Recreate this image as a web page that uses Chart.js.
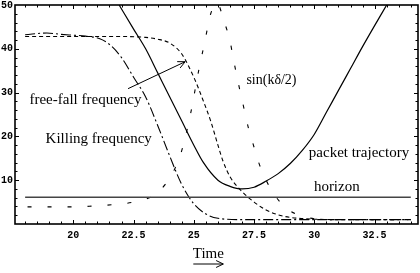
<!DOCTYPE html>
<html>
<head>
<meta charset="utf-8">
<script src="https://cdn.jsdelivr.net/npm/chart.js@4.4.1/dist/chart.umd.min.js"></script>
<style>
    html, body { margin: 0; padding: 0; background: #fff; }
    #caixa { width: 420px; height: 273px; position: relative; }
</style>
</head>
<body>
<div id="caixa"><canvas id="myChart"></canvas></div>
<script>
// tick labels
var xTicks = [20, 22.5, 25, 27.5, 30, 32.5];
var yTicks = [10, 20, 30, 40, 50];

// horizon
var horizonTime = [18, 34];
var horizonValue = [6.1, 6.1];

// packet trajectory
var packetTime = [21.9, 22.5, 23, 23.5, 24, 24.5, 25, 25.4, 26, 26.5, 27, 27.5, 28, 28.5, 29, 29.5, 30, 30.5, 31, 31.5, 32, 32.5, 33];
var packetValue = [50, 44.5, 40, 34.5, 29, 23.5, 18, 14, 10, 8.6, 8, 8.4, 9.8, 11.5, 13.8, 16.8, 20.5, 25.5, 30.5, 35.5, 40.5, 45.3, 50];

// free-fall frequency
var freeFallTime = [18, 20, 22, 23, 23.5, 24, 24.5, 25, 25.4, 25.7, 26, 26.2, 26.5, 27, 27.5, 28, 28.5, 29, 30, 31, 34];
var freeFallValue = [42.8, 42.8, 42.8, 42.6, 42.2, 41.3, 38.8, 33.5, 28, 23.5, 18, 14.5, 10.8, 7.4, 5, 3.2, 2.1, 1.5, 1.1, 1, 1];

// Killing frequency
var killingTime = [18, 18.9, 19.5, 20, 20.5, 21.1, 21.5, 22, 22.5, 23, 23.5, 24, 24.5, 25, 25.5, 26, 27, 34];
var killingValue = [43.2, 43.6, 43.3, 43.1, 42.9, 42.3, 41, 38, 33.5, 29, 22.5, 15.5, 9, 4.6, 2.3, 1.3, 1, 1];

// sin(kδ/2)
var sinTime = [18.1, 19.1, 19.9, 20.8, 21.6, 22.5, 23.35, 23.85, 24.2, 24.5, 24.85, 25.2, 25.45, 25.7, 25.95, 26.27, 26.5, 26.64, 26.93, 27.1, 27.27, 27.5, 27.7, 28, 28.35, 28.93, 29.5, 30, 31, 34];
var sinValue = [3.9, 3.9, 3.9, 4.1, 4.4, 5, 6.6, 9.3, 12.5, 16.8, 24.8, 35, 41.5, 48, 50.5, 46, 41.8, 37.7, 30, 25.9, 21.8, 17.5, 13.9, 10, 6.6, 3.2, 1.8, 1.2, 1, 1];

// junta tempo e valor em pontos {x, y}
function montarPontos(tempos, valores) {
    var pontos = [];
    for (var i = 0; i < tempos.length; i++) {
        pontos.push({x: tempos[i], y: valores[i]});
    }
    return pontos;
}

function linha(tempos, valores, cor, largura, traco) {
    return {
        data: montarPontos(tempos, valores),
        borderColor: cor,
        borderWidth: largura,
        borderDash: traco,
        pointRadius: 0,
        fill: false,
        cubicInterpolationMode: 'monotone'
    };
}

function seta(ctx, x1, y1, x2, y2) {
    var ang = Math.atan2(y2 - y1, x2 - x1);
    var tam = 8;
    ctx.beginPath();
    ctx.moveTo(x1, y1);
    ctx.lineTo(x2, y2);
    ctx.moveTo(x2 - tam * Math.cos(ang - 0.45), y2 - tam * Math.sin(ang - 0.45));
    ctx.lineTo(x2, y2);
    ctx.lineTo(x2 - tam * Math.cos(ang + 0.45), y2 - tam * Math.sin(ang + 0.45));
    ctx.stroke();
}

// tira o recuo que o Chart.js reserva para os rótulos
function semRecuo(scale) {
    scale.paddingTop = 0;
    scale.paddingBottom = 0;
    scale.paddingLeft = 0;
    scale.paddingRight = 0;
}

// moldura, marcas internas e textos
var desenhoExtra = {
    id: 'desenhoExtra',
    afterDatasetsDraw: function(chart) {
        var ctx = chart.ctx;
        var a = chart.chartArea;
        var sx = chart.scales.x;
        var sy = chart.scales.y;
        ctx.save();
        ctx.strokeStyle = '#000';
        ctx.lineWidth = 1;
        ctx.beginPath();
        for (var i = 36; i <= 68; i++) {
            var px = Math.round(sx.getPixelForValue(i / 2)) + 0.5;
            var t = (i % 5 === 0) ? 4 : 2.5;
            ctx.moveTo(px, a.bottom); ctx.lineTo(px, a.bottom - t);
            ctx.moveTo(px, a.top); ctx.lineTo(px, a.top + t);
        }
        for (var j = 1; j < 25; j++) {
            var py = Math.round(sy.getPixelForValue(j * 2)) + 0.5;
            var t2 = (j % 5 === 0) ? 4 : 2.5;
            ctx.moveTo(a.left, py); ctx.lineTo(a.left + t2, py);
            ctx.moveTo(a.right, py); ctx.lineTo(a.right - t2, py);
        }
        ctx.stroke();

        ctx.lineWidth = 1.6;
        ctx.strokeRect(a.left, a.top, a.right - a.left, a.bottom - a.top);

        ctx.fillStyle = '#000';
        ctx.font = '15px "Liberation Serif"';
        ctx.textBaseline = 'alphabetic';
        ctx.textAlign = 'left';
        var textos = [
            ['free-fall frequency', 18.18, 27.3],
            ['Killing frequency', 18.85, 18.6],
            ['packet trajectory', 29.77, 15.2],
            ['horizon', 29.98, 7.5]
        ];
        textos.forEach(function(tx) {
            ctx.fillText(tx[0], sx.getPixelForValue(tx[1]), sy.getPixelForValue(tx[2]));
        });
        ctx.font = '14px "Liberation Serif"';
        ctx.fillText('sin(kδ/2)', sx.getPixelForValue(27.18), sy.getPixelForValue(32));

        ctx.lineWidth = 1;
        seta(ctx, sx.getPixelForValue(22.27), sy.getPixelForValue(30.9),
                  sx.getPixelForValue(24.64), sy.getPixelForValue(37.05));

        // rótulo do eixo x
        var cx = (sx.getPixelForValue(25) + sx.getPixelForValue(26.2)) / 2;
        ctx.font = '15px "Liberation Serif"';
        ctx.textAlign = 'center';
        ctx.fillText('Time', cx, a.bottom + 34);
        seta(ctx, cx - 15, a.bottom + 40, cx + 15, a.bottom + 40);
        ctx.restore();
    }
};

var ctx = document.getElementById('myChart').getContext('2d');
var myChart = new Chart(ctx, {
    type: 'line',
    data: {
        datasets: [
            linha(horizonTime, horizonValue, '#444', 1.6, []),
            linha(packetTime, packetValue, '#000', 1.2, []),
            linha(freeFallTime, freeFallValue, '#000', 1.1, [4, 3]),
            linha(killingTime, killingValue, '#000', 1.1, [10, 3, 2, 3]),
            linha(sinTime, sinValue, '#000', 1.1, [4, 16])
        ]
    },
    options: {
        responsive: true,
        maintainAspectRatio: false,
        animation: false,
        layout: { padding: { top: 5, right: 2, bottom: 33, left: 0 } },
        plugins: {
            legend: { display: false },
            tooltip: { enabled: false }
        },
        scales: {
            x: {
                type: 'linear',
                min: 17.58,
                max: 34.3,
                grid: { display: false, drawTicks: false },
                border: { display: false },
                afterBuildTicks: function(scale) {
                    scale.ticks = xTicks.map(function(v) { return {value: v}; });
                },
                afterFit: function(scale) { scale.height = 16; semRecuo(scale); },
                ticks: {
                    autoSkip: false,
                    maxRotation: 0,
                    padding: 5,
                    color: '#000',
                    font: { family: '"Liberation Mono"', size: 10, weight: 'bold' },
                    callback: function(v) { return String(v); }
                }
            },
            y: {
                type: 'linear',
                min: 0,
                max: 50,
                grid: { display: false, drawTicks: false },
                border: { display: false },
                afterBuildTicks: function(scale) {
                    scale.ticks = yTicks.map(function(v) { return {value: v}; });
                },
                afterFit: function(scale) { scale.width = 15; semRecuo(scale); },
                ticks: {
                    padding: 2,
                    color: '#000',
                    font: { family: '"Liberation Mono"', size: 10, weight: 'bold' },
                    callback: function(v) { return String(v); }
                }
            }
        }
    },
    plugins: [desenhoExtra]
});
</script>
</body>
</html>
